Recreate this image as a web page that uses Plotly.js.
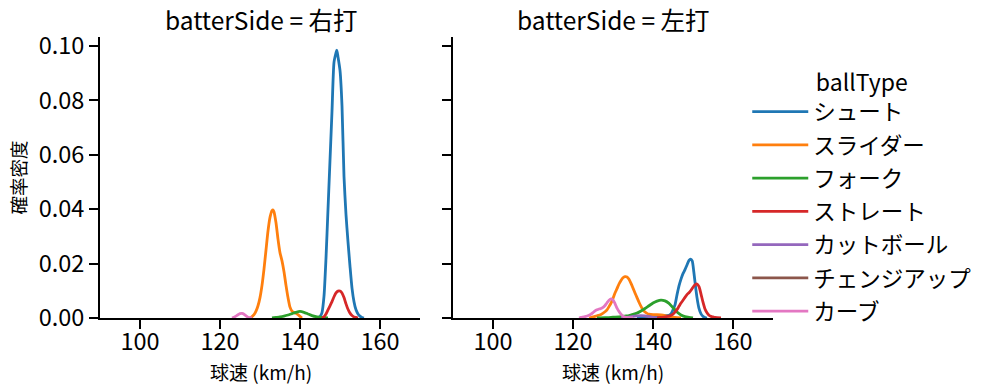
<!DOCTYPE html>
<html>
<head>
<meta charset="utf-8">
<script src="https://cdn.plot.ly/plotly-3.0.1.min.js"></script>
<style>html,body{margin:0;padding:0;background:#fff;}#chart{width:999px;height:391px;}</style>
</head>
<body>
<div id="chart"></div>
<script>
// ---- data ----
const ballTypes = ["シュート", "スライダー", "フォーク", "ストレート", "カットボール", "チェンジアップ", "カーブ"];
const colors = ["#1f77b4", "#ff7f0e", "#2ca02c", "#d62728", "#9467bd", "#8c564b", "#e377c2"];
const panelTitles = ["batterSide = 右打", "batterSide = 左打"];
const xAxisTitle = "球速 (km/h)";
const yAxisTitle = "確率密度";
const xTicks = [100, 120, 140, 160];
const yTicks = [0, 0.02, 0.04, 0.06, 0.08, 0.10];
const yTickLabels = ["0.00", "0.02", "0.04", "0.06", "0.08", "0.10"];

// 右打 (left panel)
const rShootX = [144, 145, 145.5, 146, 146.5, 147, 147.5, 148, 148.5, 149, 149.2, 149.5, 150, 150.5, 151, 151.5, 152, 152.5, 153, 153.5, 154, 154.5, 155, 155.5, 156];
const rShootY = [0, 0.0005, 0.002, 0.008, 0.022, 0.040, 0.058, 0.076, 0.094, 0.0975, 0.0985, 0.096, 0.091, 0.078, 0.052, 0.038, 0.028, 0.019, 0.011, 0.006, 0.003, 0.0015, 0.0007, 0.0002, 0];
const rSliderX = [127.5, 128, 128.5, 129, 129.5, 130, 130.5, 131, 131.5, 132, 132.5, 133, 133.3, 133.5, 134, 134.5, 135, 135.5, 136, 136.5, 137, 137.5, 138, 138.5, 139, 139.5, 140, 140.5];
const rSliderY = [0, 0.0005, 0.0012, 0.0025, 0.0045, 0.0075, 0.012, 0.018, 0.025, 0.032, 0.037, 0.0395, 0.0397, 0.039, 0.035, 0.029, 0.024, 0.021, 0.017, 0.012, 0.0075, 0.004, 0.0025, 0.002, 0.0017, 0.0012, 0.0006, 0];
const rForkX = [133, 134, 135, 136, 137, 138, 139, 140, 141, 142, 143, 144, 145, 146, 147];
const rForkY = [0, 0.0002, 0.0004, 0.0007, 0.0011, 0.0016, 0.0021, 0.0024, 0.0021, 0.0015, 0.0009, 0.0005, 0.0003, 0.0001, 0];
const rStraightX = [145.5, 146, 146.5, 147, 147.5, 148, 148.5, 149, 149.5, 150, 150.5, 151, 151.5, 152, 152.5, 153, 153.5, 154, 154.5];
const rStraightY = [0, 0.0005, 0.0015, 0.003, 0.0045, 0.006, 0.0078, 0.0092, 0.0099, 0.0099, 0.0092, 0.0075, 0.0052, 0.0032, 0.0018, 0.0009, 0.0004, 0.0002, 0];
const rCutX = [];
const rCutY = [];
const rChangeX = [];
const rChangeY = [];
const rCurveX = [123, 123.5, 124, 124.5, 125, 125.5, 126, 126.5, 127, 127.5, 128];
const rCurveY = [0, 0.0003, 0.0007, 0.0012, 0.0016, 0.0017, 0.0014, 0.0008, 0.0003, 0.0001, 0];

// 左打 (right panel)
const lShootX = [136, 137, 138, 139, 140, 141, 142, 143, 144, 144.5, 145, 145.5, 146, 146.5, 147, 147.5, 148, 148.5, 149, 149.4, 149.8, 150.2, 150.6, 151, 151.5, 152, 152.5, 153, 153.5];
const lShootY = [0, 0.0002, 0.0004, 0.0006, 0.0008, 0.0009, 0.0009, 0.0009, 0.001, 0.0015, 0.003, 0.0048, 0.0085, 0.0118, 0.0143, 0.0163, 0.0178, 0.0195, 0.0212, 0.0216, 0.021, 0.017, 0.012, 0.0075, 0.0035, 0.0015, 0.0006, 0.0002, 0];
const lSliderX = [124, 125, 126, 127, 128, 128.5, 129, 129.5, 130, 130.5, 131, 131.5, 132, 132.5, 133, 133.5, 134, 134.5, 135, 135.5, 136, 136.5, 137, 137.5, 138, 138.5, 139, 140, 141, 142, 143, 144, 145, 146, 147];
const lSliderY = [0, 0.0004, 0.0008, 0.0013, 0.0023, 0.003, 0.0042, 0.0055, 0.0072, 0.0092, 0.0108, 0.0125, 0.0138, 0.0148, 0.0152, 0.0151, 0.0142, 0.0127, 0.011, 0.0092, 0.0075, 0.0058, 0.0043, 0.003, 0.0022, 0.0017, 0.0014, 0.0012, 0.0012, 0.0011, 0.0009, 0.0006, 0.0003, 0.0001, 0];
const lForkX = [126, 128, 130, 132, 133, 134, 135, 136, 137, 138, 139, 140, 141, 142, 143, 144, 145, 146, 147, 148, 149, 150];
const lForkY = [0, 0.0001, 0.0003, 0.0005, 0.0007, 0.0009, 0.0013, 0.0018, 0.0026, 0.0035, 0.0045, 0.0055, 0.0062, 0.0066, 0.0063, 0.0054, 0.0038, 0.0022, 0.0011, 0.0005, 0.0002, 0];
const lStraightX = [141, 142, 143, 144, 145, 145.5, 146, 146.5, 147, 147.5, 148, 148.5, 149, 149.5, 150, 150.5, 151, 151.5, 152, 152.5, 153, 153.5, 154, 154.5, 155, 155.5, 156, 157];
const lStraightY = [0, 0.0002, 0.0004, 0.0007, 0.0014, 0.0022, 0.0031, 0.0043, 0.0055, 0.0065, 0.0076, 0.0086, 0.0093, 0.0102, 0.0113, 0.0122, 0.0125, 0.0115, 0.0088, 0.0058, 0.0033, 0.0019, 0.001, 0.0006, 0.0004, 0.0002, 0.0001, 0];
const lCutX = [132, 134, 135, 136, 137, 138, 139, 140, 141];
const lCutY = [0, 0.0003, 0.0006, 0.0008, 0.0009, 0.0008, 0.0005, 0.0002, 0];
const lChangeX = [];
const lChangeY = [];
const lCurveX = [121.5, 122, 123, 124, 124.5, 125, 125.5, 126, 126.5, 127, 127.5, 128, 128.5, 129, 129.5, 130, 130.5, 131, 131.5, 132, 132.5, 133, 134, 135];
const lCurveY = [0, 0.0002, 0.0005, 0.001, 0.0014, 0.002, 0.0026, 0.003, 0.0033, 0.0035, 0.0039, 0.0046, 0.0056, 0.0065, 0.007, 0.0066, 0.0053, 0.0036, 0.0024, 0.0014, 0.0007, 0.0003, 0.0001, 0];

const rightHand = [[rShootX, rShootY], [rSliderX, rSliderY], [rForkX, rForkY], [rStraightX, rStraightY], [rCutX, rCutY], [rChangeX, rChangeY], [rCurveX, rCurveY]];
const leftHand = [[lShootX, lShootY], [lSliderX, lSliderY], [lForkX, lForkY], [lStraightX, lStraightY], [lCutX, lCutY], [lChangeX, lChangeY], [lCurveX, lCurveY]];

// ---- build traces ----
const LW = 2.8;
const traces = [];
ballTypes.forEach((name, i) => {
  const lineStyle = {color: colors[i], width: LW, shape: 'spline', smoothing: 0.6};
  traces.push({
    x: rightHand[i][0], y: rightHand[i][1], xaxis: 'x', yaxis: 'y',
    type: 'scatter', mode: 'lines', name: name, legendgroup: name,
    showlegend: false, line: lineStyle
  });
  traces.push({
    x: leftHand[i][0], y: leftHand[i][1], xaxis: 'x2', yaxis: 'y2',
    type: 'scatter', mode: 'lines', name: name, legendgroup: name,
    showlegend: false, line: lineStyle
  });
});
// legend entries (one per ball type, always listed even if a panel has no data)
ballTypes.forEach((name, i) => {
  traces.push({
    x: [null], y: [null], xaxis: 'x', yaxis: 'y',
    type: 'scatter', mode: 'lines', name: name, legendgroup: name,
    showlegend: true, hoverinfo: 'skip', line: {color: colors[i], width: LW}
  });
});

const FONT = '"Noto Sans CJK JP", "Noto Sans", sans-serif';
const axisCommon = {
  showline: true, linecolor: '#000', linewidth: 2,
  ticks: 'outside', ticklen: 9, tickwidth: 2, tickcolor: '#000',
  showgrid: false, zeroline: false,
  tickfont: {family: FONT, size: 23.5, color: '#000'}
};
const yDom = [(391 - 318) / 391, (391 - 37) / 391];

function textAnn(text, xPx, yPx, size, extra) {
  return Object.assign({text: text, x: xPx / 999, y: (391 - yPx) / 391, xref: 'paper', yref: 'paper',
    xanchor: 'center', yanchor: 'middle', showarrow: false, font: {family: FONT, size: size, color: '#000'}}, extra || {});
}

const layout = {
  width: 999, height: 391,
  margin: {l: 0, r: 0, t: 0, b: 0},
  paper_bgcolor: '#fff', plot_bgcolor: '#fff',
  font: {family: FONT, color: '#000'},
  xaxis: Object.assign({}, axisCommon, {
    domain: [100 / 999, 420 / 999], range: [90, 170], anchor: 'y', tickvals: xTicks, ticklabelstandoff: -7
  }),
  yaxis: Object.assign({}, axisCommon, {
    domain: yDom, range: [0, 0.1033], anchor: 'x',
    tickvals: yTicks, ticktext: yTickLabels,
    title: {text: yAxisTitle, font: {family: FONT, size: 18.5, color: '#000'}, standoff: 7}
  }),
  xaxis2: Object.assign({}, axisCommon, {
    domain: [453 / 999, 773 / 999], range: [90, 170], anchor: 'y2', tickvals: xTicks, ticklabelstandoff: -7
  }),
  yaxis2: Object.assign({}, axisCommon, {
    domain: yDom, range: [0, 0.1033], anchor: 'x2', matches: 'y',
    tickvals: yTicks, showticklabels: false
  }),
  annotations: [
    textAnn(panelTitles[0], 261, 20, 24.5),
    textAnn(panelTitles[1], 613, 20, 24.5),
    textAnn(xAxisTitle, 261, 371, 19),
    textAnn(xAxisTitle, 613, 371, 19)
  ],
  legend: {
    x: 0.748, y: 0.497, xanchor: 'left', yanchor: 'middle',
    font: {family: FONT, size: 22.5, color: '#000'},
    title: {text: 'ballType', side: 'top center', font: {family: FONT, size: 23, color: '#000'}},
    itemwidth: 56, tracegroupgap: 1, bgcolor: 'rgba(0,0,0,0)'
  },
  showlegend: true
};

Plotly.newPlot('chart', traces, layout, {staticPlot: true, displayModeBar: false});
</script>
</body>
</html>
